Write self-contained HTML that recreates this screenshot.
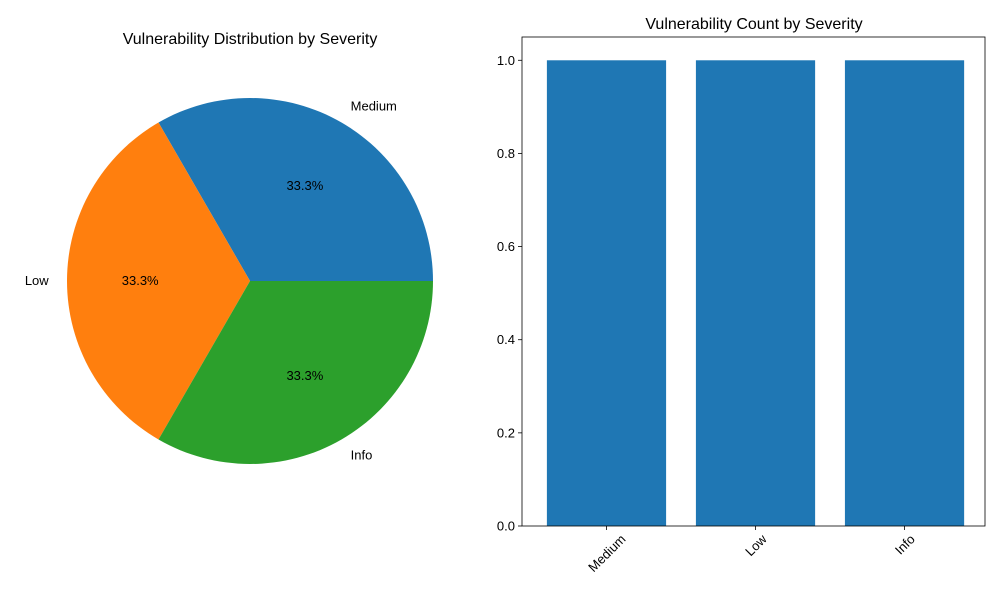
<!DOCTYPE html>
<html><head><meta charset="utf-8"><style>
body{margin:0;background:#fff;}
svg text{font-family:"Liberation Sans","DejaVu Sans",sans-serif;fill:#000;}
</style></head><body>
<svg id="chart" width="1000" height="600" viewBox="0 0 1000 600" xmlns="http://www.w3.org/2000/svg">
<rect width="1000" height="600" fill="#fff"/>
<text x="250" y="44" font-size="16" text-anchor="middle">Vulnerability Distribution by Severity</text>
<g id="pie"></g>
<text x="754" y="29" font-size="16" text-anchor="middle">Vulnerability Count by Severity</text>
<g id="bars"></g>
</svg>
<script>
const categories = ["Medium","Low","Info"];
const counts = [1,1,1];
const colors = ["#1f77b4","#ff7f0e","#2ca02c"];
const yTicks = [0,0.2,0.4,0.6,0.8,1.0];
const tickLabels = ["0.0","0.2","0.4","0.6","0.8","1.0"];

const NS="http://www.w3.org/2000/svg";
function mk(tag,attrs,parent){const e=document.createElementNS(NS,tag);for(const k in attrs)e.setAttribute(k,attrs[k]);parent.appendChild(e);return e;}

// Pie
const pie=document.getElementById('pie');
const cx=250,cy=281,r=183;
const total=counts.reduce((a,b)=>a+b,0);
let ang=0;
counts.forEach((v,i)=>{
  const a0=ang, a1=ang+v/total*2*Math.PI; ang=a1;
  const x0=cx+r*Math.cos(a0),y0=cy-r*Math.sin(a0),x1=cx+r*Math.cos(a1),y1=cy-r*Math.sin(a1);
  const large=(a1-a0)>Math.PI?1:0;
  const p=mk('path',{d:`M${cx},${cy} L${x0},${y0} A${r},${r} 0 ${large} 0 ${x1},${y1} Z`,fill:colors[i]},pie);
  
  
  const m=(a0+a1)/2;
  const lx=cx+r*1.1*Math.cos(m), ly=cy-r*1.1*Math.sin(m);
  const t=mk('text',{x:lx,y:ly+4,'font-size':13,'text-anchor':Math.cos(m)>0.01?'start':(Math.cos(m)<-0.01?'end':'middle')},pie);
  t.textContent=categories[i];
  
  
  const px=cx+r*0.6*Math.cos(m), py=cy-r*0.6*Math.sin(m);
  const pt=mk('text',{x:px,y:py+4,'font-size':13,'text-anchor':'middle'},pie);
  pt.textContent=(v/total*100).toFixed(1)+'%';
  
  
});

// Bars
const bars=document.getElementById('bars');
const L=522,R=985,T=37,B=526;
const xmin=-0.567,xmax=2.54,ymax=1.05;
const xs=v=>L+(v-xmin)/(xmax-xmin)*(R-L);
const ys=v=>B-v/ymax*(B-T);
counts.forEach((v,i)=>{
  const x0=xs(i-0.4),x1=xs(i+0.4);
  const b=mk('rect',{x:x0,y:ys(v),width:x1-x0,height:B-ys(v),fill:'#1f77b4'},bars);
  
  
  const cxp=xs(i);
  mk('line',{x1:cxp,y1:B,x2:cxp,y2:B+4,stroke:'#000','stroke-width':0.8},bars);
  const t=mk('text',{x:0,y:0,'font-size':13,'text-anchor':'end'},bars);
  t.textContent=categories[i];
  
  
  const len=t.getComputedTextLength();
  const W=(len+10)*0.7071;
  const ex=cxp+W/2, ey=B+7+7;
  t.setAttribute('x',ex);t.setAttribute('y',ey);
  t.setAttribute('transform',`rotate(-45 ${ex} ${ey})`);
});
yTicks.forEach((v,i)=>{
  const y=ys(v);
  mk('line',{x1:L-4,y1:y,x2:L,y2:y,stroke:'#000','stroke-width':0.8},bars);
  const t=mk('text',{x:L-7,y:y+4.5,'font-size':13,'text-anchor':'end'},bars);
  t.textContent=tickLabels[i];
  
  
});
const fr=mk('rect',{x:L,y:T,width:R-L,height:B-T,fill:'none',stroke:'#000','stroke-width':0.8},bars);


</script>
</body></html>
